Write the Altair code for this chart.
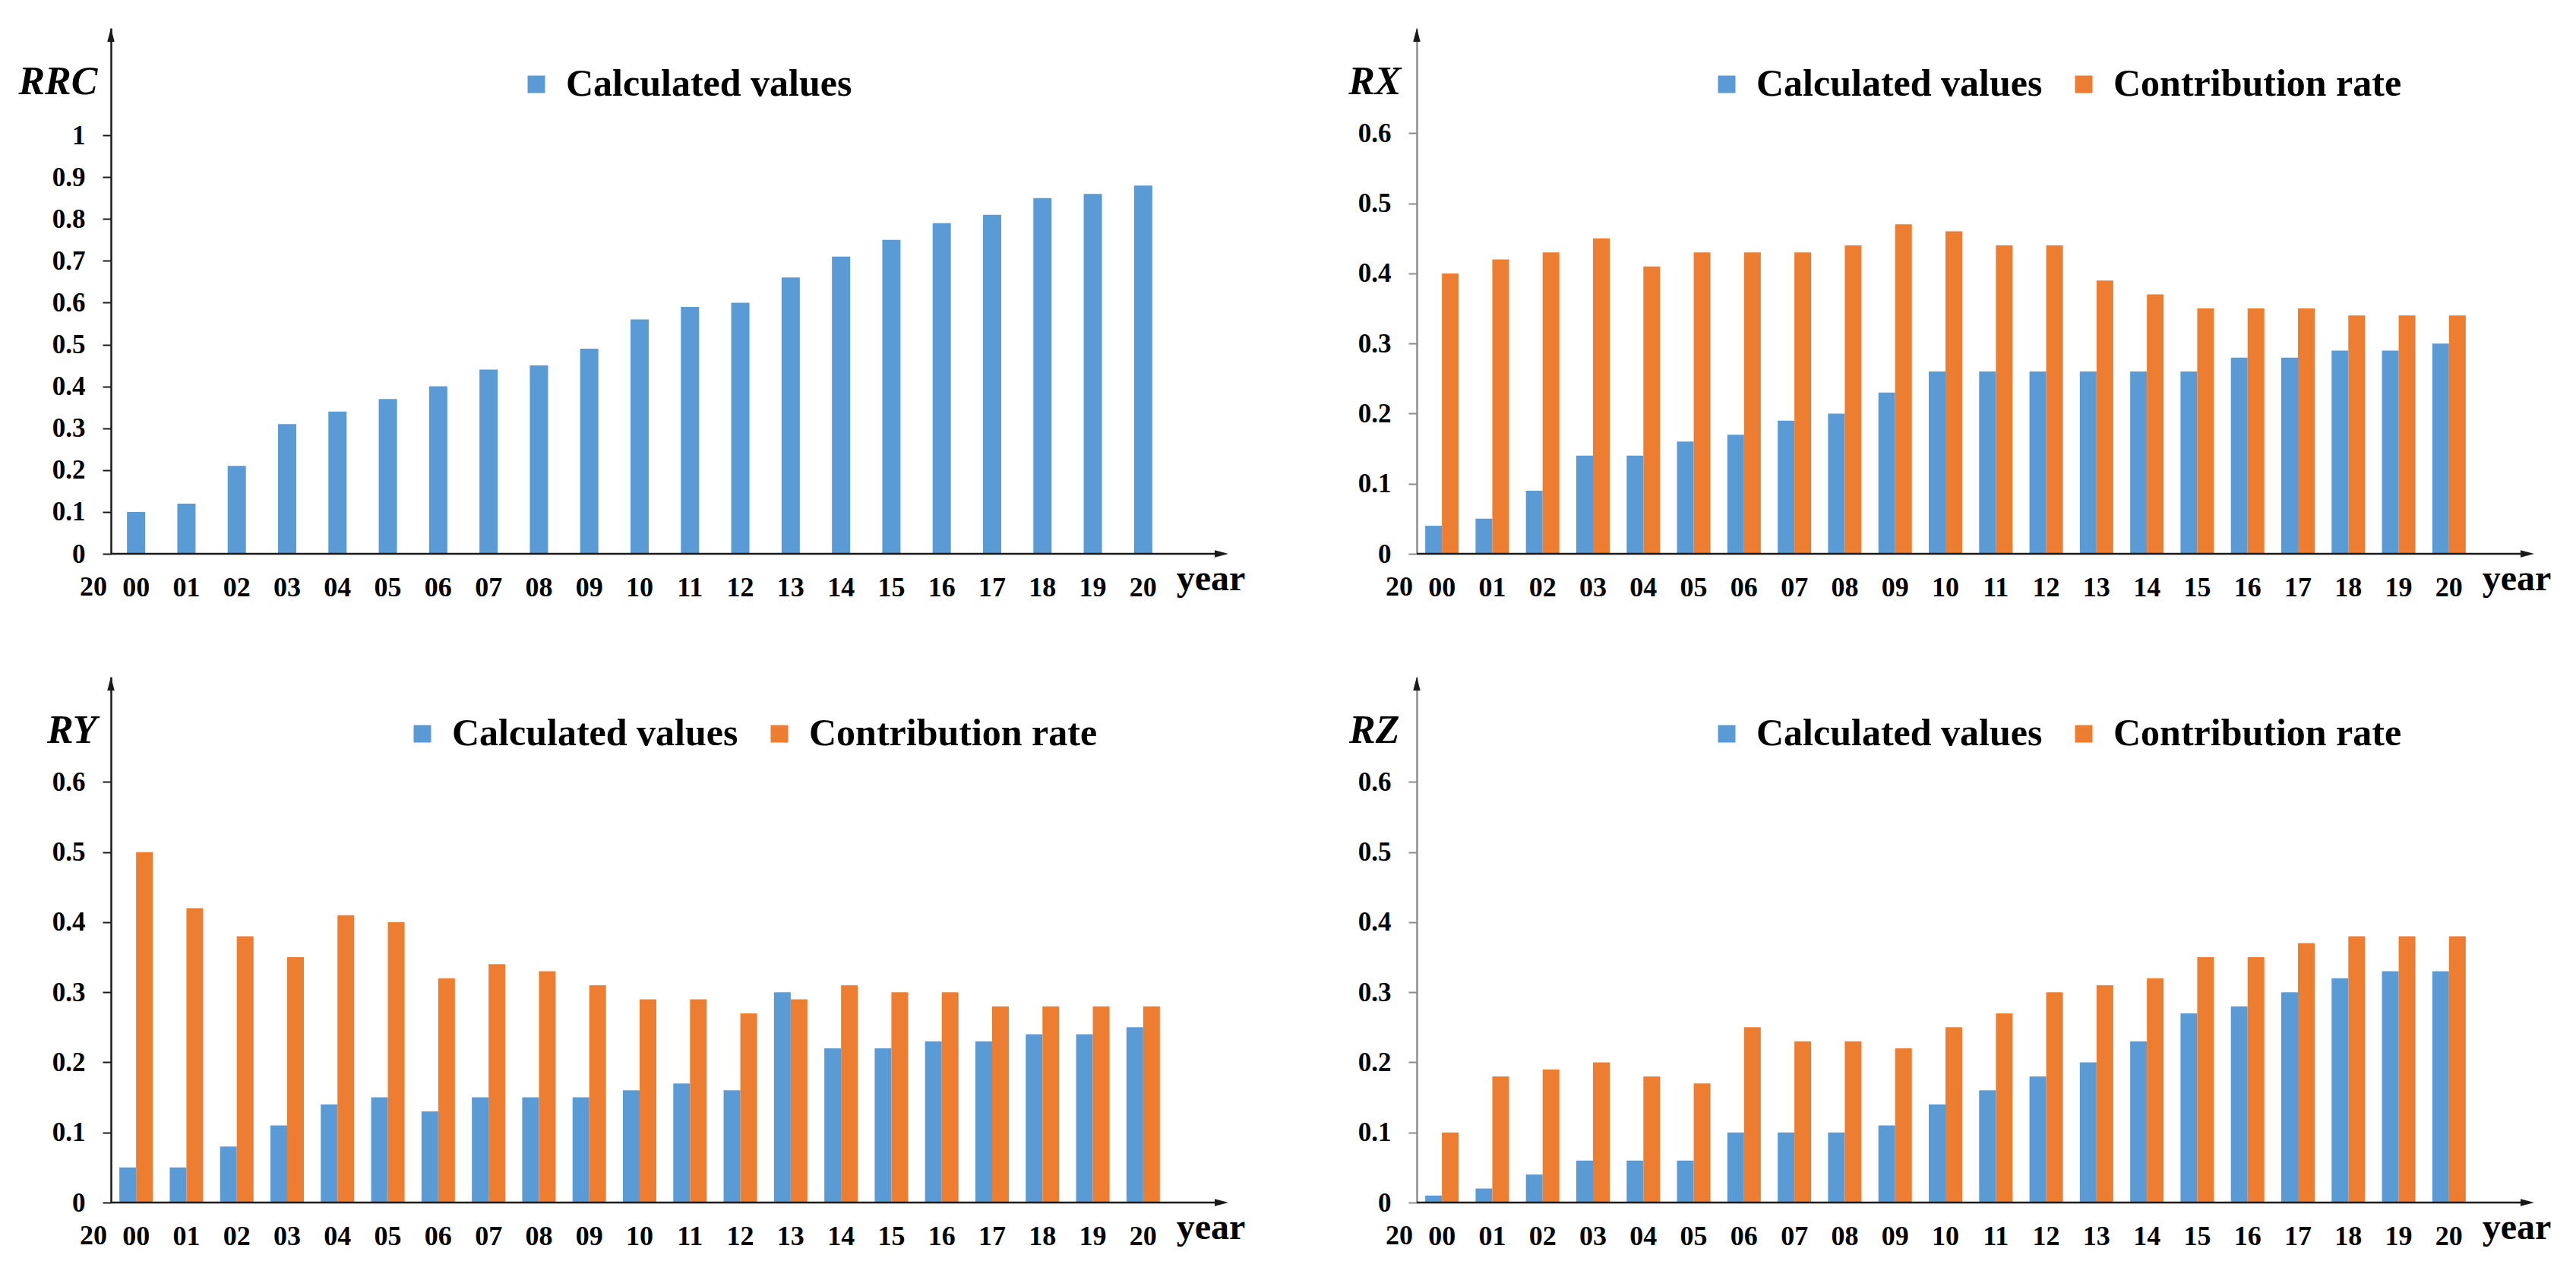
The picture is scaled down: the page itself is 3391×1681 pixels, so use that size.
import altair as alt
import pandas as pd

years = ["00", "01", "02", "03", "04", "05", "06", "07", "08", "09", "10",
         "11", "12", "13", "14", "15", "16", "17", "18", "19", "20"]

rrc_calc = [0.10, 0.12, 0.21, 0.31, 0.34, 0.37, 0.40, 0.44, 0.45, 0.49, 0.56,
            0.59, 0.60, 0.66, 0.71, 0.75, 0.79, 0.81, 0.85, 0.86, 0.88]

rx_calc = [0.04, 0.05, 0.09, 0.14, 0.14, 0.16, 0.17, 0.19, 0.20, 0.23, 0.26,
           0.26, 0.26, 0.26, 0.26, 0.26, 0.28, 0.28, 0.29, 0.29, 0.30]
rx_contrib = [0.40, 0.42, 0.43, 0.45, 0.41, 0.43, 0.43, 0.43, 0.44, 0.47, 0.46,
              0.44, 0.44, 0.39, 0.37, 0.35, 0.35, 0.35, 0.34, 0.34, 0.34]

ry_calc = [0.05, 0.05, 0.08, 0.11, 0.14, 0.15, 0.13, 0.15, 0.15, 0.15, 0.16,
           0.17, 0.16, 0.30, 0.22, 0.22, 0.23, 0.23, 0.24, 0.24, 0.25]
ry_contrib = [0.50, 0.42, 0.38, 0.35, 0.41, 0.40, 0.32, 0.34, 0.33, 0.31, 0.29,
              0.29, 0.27, 0.29, 0.31, 0.30, 0.30, 0.28, 0.28, 0.28, 0.28]

rz_calc = [0.01, 0.02, 0.04, 0.06, 0.06, 0.06, 0.10, 0.10, 0.10, 0.11, 0.14,
           0.16, 0.18, 0.20, 0.23, 0.27, 0.28, 0.30, 0.32, 0.33, 0.33]
rz_contrib = [0.10, 0.18, 0.19, 0.20, 0.18, 0.17, 0.25, 0.23, 0.23, 0.22, 0.25,
              0.27, 0.30, 0.31, 0.32, 0.35, 0.35, 0.37, 0.38, 0.38, 0.38]

series_names = ["Calculated values", "Contribution rate"]
ticks_rrc = [0, 0.1, 0.2, 0.3, 0.4, 0.5, 0.6, 0.7, 0.8, 0.9, 1]
ticks_r = [0, 0.1, 0.2, 0.3, 0.4, 0.5, 0.6]

BLUE = "#5B9BD5"
ORANGE = "#ED7D31"
FONT = "Liberation Serif"
W, H = 1392, 692
UP = "M0,-1L0.53,1L-0.53,1Z"
RIGHT = "M1,0L-1,-0.53L-1,0.53Z"


def panel(title, calc, contrib, ymax, yticks, lx, ly, axcolor, tx):
    if contrib is None:
        df = pd.DataFrame({"year": years, "series": series_names[0], "value": calc})
        domain = series_names[:1]
        rng = [BLUE]
        pi = 0.638
    else:
        df = pd.concat([
            pd.DataFrame({"year": years, "series": series_names[0], "value": calc}),
            pd.DataFrame({"year": years, "series": series_names[1], "value": contrib}),
        ])
        domain = series_names
        rng = [BLUE, ORANGE]
        pi = 0.336

    enc = dict(
        x=alt.X("year:N", sort=years, title=None,
                scale=alt.Scale(paddingInner=pi, paddingOuter=pi / 2),
                axis=alt.Axis(domain=False, ticks=False, labelAngle=0, labelFont=FONT,
                              labelFontSize=36, labelFontWeight="bold", labelColor="black",
                              labelPadding=27)),
        y=alt.Y("value:Q", scale=alt.Scale(domain=[0, ymax], nice=False, zero=True),
                axis=alt.Axis(values=yticks, format="~g", grid=False,
                              domainColor=axcolor, domainWidth=2.5,
                              tickColor=axcolor, tickSize=11, tickWidth=2,
                              labelFont=FONT, labelFontSize=35, labelFontWeight="bold",
                              labelColor="black", labelPadding=23,
                              title=title, titleAngle=0, titleX=tx, titleY=86,
                              titleAlign="right", titleBaseline="alphabetic",
                              titleFont=FONT, titleFontSize=52, titleFontStyle="italic",
                              titleFontWeight="bold", titleColor="black")),
        color=alt.Color("series:N", title=None,
                        scale=alt.Scale(domain=domain, range=rng),
                        legend=alt.Legend(orient="none", legendX=lx, legendY=ly,
                                          direction="horizontal", columns=len(domain),
                                          symbolType="square", symbolSize=529,
                                          symbolStrokeWidth=0, symbolOpacity=1,
                                          labelFont=FONT, labelFontSize=50,
                                          labelFontWeight="bold", labelColor="black",
                                          labelOffset=14, columnPadding=29,
                                          labelLimit=1000, padding=0)),
    )
    if contrib is not None:
        enc["xOffset"] = alt.XOffset("series:N", sort=domain,
                                     scale=alt.Scale(paddingInner=0, paddingOuter=0))
    bars = alt.Chart(df).mark_bar().encode(**enc)

    one = pd.DataFrame({"k": [0]})
    xline = alt.Chart(one).mark_rule(color="#1a1a1a", strokeWidth=2.5).encode(
        x=alt.value(0), x2=alt.value(W + 63), y=alt.value(H))
    xarrow = alt.Chart(one).mark_point(shape=RIGHT, filled=True, color="#1a1a1a",
                                       opacity=1, size=324, strokeWidth=0).encode(
        x=alt.value(W + 70), y=alt.value(H))
    yarrow = alt.Chart(one).mark_point(shape=UP, filled=True, color="#1a1a1a",
                                       opacity=1, size=324, strokeWidth=0).encode(
        x=alt.value(0), y=alt.value(9))
    pre = alt.Chart(one).mark_text(text="20", font=FONT, fontSize=36, fontWeight="bold",
                                   baseline="top", align="center", color="black").encode(
        x=alt.value(-23), y=alt.value(H + 27))
    yr = alt.Chart(one).mark_text(text="year", font=FONT, fontSize=48, fontWeight="bold",
                                  baseline="alphabetic", align="center", color="black").encode(
        x=alt.value(W + 56), y=alt.value(H + 48))
    return alt.layer(bars, xline, xarrow, yarrow, pre, yr).properties(width=W, height=H)


p1 = panel("RRC", rrc_calc, None, 1.256, ticks_rrc, 535, 49, "#1a1a1a", -18)
p2 = panel("RX", rx_calc, rx_contrib, 0.75, ticks_r, 383, 49, "#8c8c8c", -21)
p3 = panel("RY", ry_calc, ry_contrib, 0.75, ticks_r, 385, 50, "#1a1a1a", -19)
p4 = panel("RZ", rz_calc, rz_contrib, 0.75, ticks_r, 383, 50, "#8c8c8c", -23)

chart = alt.concat(
    p1, p2, p3, p4, columns=2, spacing={"row": 162, "column": 327}, bounds="flush"
).resolve_scale(
    color="independent", x="independent", y="independent"
).properties(
    padding={"left": 15, "top": 29, "right": 5, "bottom": 5},
    background="white",
).configure_view(strokeWidth=0)

chart.save("out.html", embed_options={"renderer": "svg", "actions": False})
